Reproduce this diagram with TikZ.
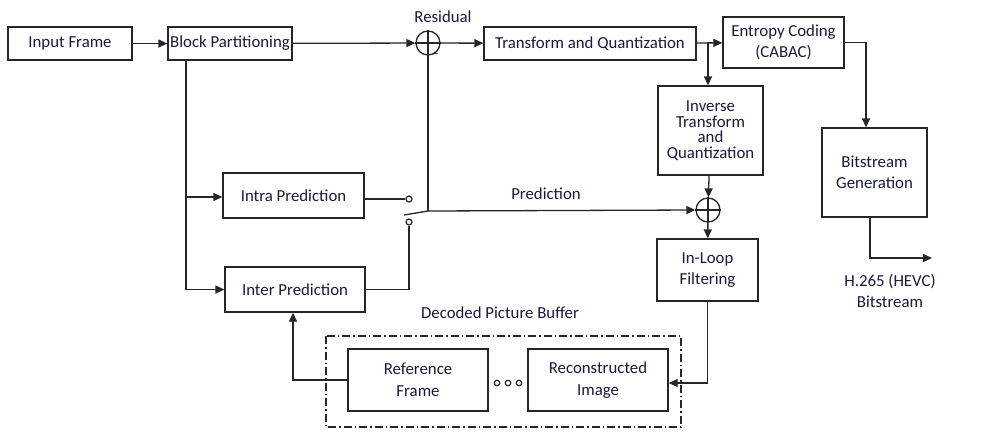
\documentclass[tikz,border=0pt]{standalone}
\usepackage{fontspec}
\setmainfont{Carlito}
\usetikzlibrary{arrows.meta,calc}
\begin{document}
\begin{tikzpicture}[x=1pt,y=-1pt,
  line width=1.3pt,
  every node/.style={font=\fontsize{16.8}{21.5}\selectfont, text=black!85!blue!90},
  box/.style={draw=black!85, line width=1.3pt, align=center, inner sep=2pt, rectangle},
  sumnode/.style={draw=black!85, circle, minimum size=24pt, inner sep=0pt, line width=1.3pt},
  contact/.style={draw=black!85, circle, minimum size=6pt, inner sep=0pt, line width=1.2pt},
  conn/.style={draw=black!85, line width=1.3pt},
  arr/.style={conn, -{Triangle[length=9pt,width=8pt]}},
  dpbbox/.style={draw=black!85, line width=1.3pt, dash pattern=on 8pt off 3pt on 1.5pt off 3pt}
]
\useasboundingbox (0,0) rectangle (995,432);

% boxes
\node[box, minimum width=124pt, minimum height=33pt] (inp) at (70,43.5) {Input Frame};
\node[box, minimum width=124pt, minimum height=33pt] (bp) at (230,43.5) {Block Partitioning};
\node[sumnode] (s1) at (428,43) {};
\node[box, minimum width=212pt, minimum height=33pt] (tq) at (590,43.5) {Transform and Quantization};
\node[box, minimum width=121pt, minimum height=51pt] (ec) at (783.5,42.5) {Entropy Coding\\(CABAC)};
\node[box, minimum width=105pt, minimum height=89pt, font=\fontsize{16.8}{15.5}\selectfont] (itq) at (710.5,130.5) {Inverse\\Transform\\and\\Quantization};
\node[box, minimum width=105pt, minimum height=89pt] (bg) at (874.5,172.5) {Bitstream\\Generation};
\node[sumnode] (s2) at (708,210) {};
\node[box, minimum width=101pt, minimum height=62pt] (ilf) at (707.5,270) {In-Loop\\Filtering};
\node[box, minimum width=141pt, minimum height=45pt] (intra) at (293.5,195.5) {Intra Prediction};
\node[box, minimum width=140pt, minimum height=45pt] (inter) at (295,289.5) {Inter Prediction};
\node[box, minimum width=140pt, minimum height=62pt] (ref) at (418,380) {Reference\\Frame};
\node[box, minimum width=140pt, minimum height=62pt] (rec) at (598,380) {Reconstructed\\Image};
\draw[dpbbox] (326,336) rectangle (681,427);

% dots
\node[contact, minimum size=5.5pt] (d1) at (497,383) {};
\node[contact, minimum size=5.5pt] (d2) at (508,383) {};
\node[contact, minimum size=5.5pt] (d3) at (519,383) {};

% switch contacts
\node[contact] (c1) at (409,199) {};
\node[contact] (c2) at (409,222) {};
\coordinate (j) at (428,211);
\coordinate (bl) at (404,215);
\coordinate (br) at (708,43);
\coordinate (out) at (932,258);

% labels
\node (lres) at (443,17) {Residual};
\node[font=\fontsize{12}{12}\selectfont] (lminus) at (436,56) {--};
\node (lpred) at (546,194) {Prediction};
\node (ldpb) at (500,313) {Decoded Picture Buffer};
\node[align=center] (lout) at (890,291) {H.265 (HEVC)\\Bitstream};

% plus signs in summing nodes
\draw[conn] (s1.north) -- (s1.south) (s1.west) -- (s1.east);
\draw[conn] (s2.north) -- (s2.south) (s2.west) -- (s2.east);

% connectors
\draw[arr] (inp) -- (bp);
\draw[arr] (bp) -- (s1);
\draw[arr] (s1) -- (tq);
\draw[arr] (tq) -- (ec);
\draw[arr] (br) -- (br |- itq.north);
\draw[arr] (ec.east) -| ([xshift=-8.5pt]bg.north);
\draw[arr] ([xshift=-4.5pt]bg.south) |- (out);
\draw[arr] (itq) -- (s2);
\draw[arr] (s2) -- (ilf);
\draw[arr] (ilf.south) |- ([yshift=-3pt]rec.east);
\draw[arr] ([xshift=-44pt]bp.south) |- ([yshift=-1.5pt]intra.west);
\draw[arr] ([xshift=-44pt]bp.south) |- (inter.west);
\draw[conn] ([yshift=-3.5pt]intra.east) -- (c1.west);
\draw[conn] (inter.east) -| (c2.south);
\draw[conn] (bl) -- (j);
\draw[conn] (j) -- (s1.south);
\draw[arr] (j) -- (s2.west);
\draw[arr] (ref.west) -| ([xshift=-2pt]inter.south);
\end{tikzpicture}
\end{document}
